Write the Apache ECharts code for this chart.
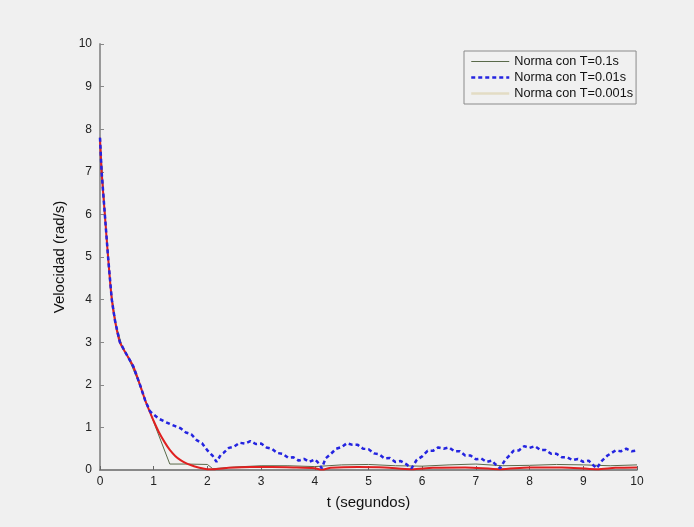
<!DOCTYPE html>
<html>
<head>
<meta charset="utf-8">
<script src="https://cdn.jsdelivr.net/npm/echarts@6/dist/echarts.min.js"></script>
<style>
  html, body { margin: 0; padding: 0; background: #f0f0f0; }
  #chart { width: 694px; height: 527px; }
</style>
</head>
<body>
<div id="chart"></div>
<script>
// Axis ticks
const xTicks = [0, 1, 2, 3, 4, 5, 6, 7, 8, 9, 10];
const yTicks = [0, 1, 2, 3, 4, 5, 6, 7, 8, 9, 10];

// Series names
const seriesNames = ['Norma con T=0.1s', 'Norma con T=0.01s', 'Norma con T=0.001s'];

// Norm of the velocity, T = 0.1 s  [t, value]
const normT01 = [
  [0, 7.8], [0.1, 5.85], [0.2, 4.25], [0.3, 3.4], [0.4, 2.95], [0.5, 2.7],
  [0.6, 2.42], [0.7, 2.12], [0.8, 1.78], [0.9, 1.45], [1.3, 0.14],
  [1.6, 0.14], [2.0, 0.13], [2.1, 0.03], [2.5, 0.07], [3.0, 0.1],
  [3.5, 0.1], [4.0, 0.08], [4.5, 0.12], [5.0, 0.13], [5.5, 0.1],
  [6.0, 0.09], [6.5, 0.12], [7.0, 0.14], [7.5, 0.1], [8.0, 0.11],
  [8.5, 0.13], [9.0, 0.12], [9.5, 0.1], [10.0, 0.12]
];

// Norm of the velocity, T = 0.01 s  [t, value]
const normT001 = [
  [0, 7.8], [0.03, 7.0], [0.09, 6.0], [0.15, 5.0], [0.22, 4.0], [0.28, 3.5],
  [0.37, 3.0], [0.5, 2.7], [0.62, 2.43], [0.745, 2.0], [0.84, 1.64],
  [0.93, 1.38], [1.0, 1.3], [1.1, 1.2], [1.2, 1.14], [1.3, 1.08],
  [1.4, 1.03], [1.5, 0.98], [1.6, 0.88], [1.7, 0.84], [1.8, 0.70],
  [1.9, 0.63], [2.0, 0.46], [2.1, 0.33], [2.17, 0.19], [2.25, 0.36],
  [2.3, 0.40], [2.4, 0.52], [2.5, 0.55], [2.6, 0.64], [2.7, 0.62],
  [2.8, 0.68], [2.9, 0.61], [3.0, 0.62], [3.1, 0.53], [3.2, 0.50],
  [3.3, 0.40], [3.4, 0.38], [3.5, 0.29], [3.6, 0.30], [3.7, 0.22],
  [3.8, 0.26], [3.9, 0.19], [4.0, 0.25], [4.05, 0.19], [4.13, 0.04],
  [4.2, 0.27], [4.3, 0.38], [4.4, 0.50], [4.5, 0.54], [4.6, 0.63],
  [4.7, 0.59], [4.8, 0.59], [4.9, 0.50], [5.0, 0.49], [5.1, 0.39],
  [5.2, 0.37], [5.3, 0.27], [5.4, 0.28], [5.5, 0.19], [5.6, 0.21],
  [5.7, 0.14], [5.8, 0.04], [5.9, 0.24], [6.0, 0.32], [6.1, 0.45],
  [6.2, 0.45], [6.3, 0.53], [6.4, 0.50], [6.5, 0.53], [6.6, 0.44],
  [6.7, 0.44], [6.8, 0.34], [6.9, 0.34], [7.0, 0.25], [7.1, 0.27],
  [7.2, 0.19], [7.3, 0.22], [7.35, 0.15], [7.45, 0.04], [7.55, 0.25],
  [7.6, 0.31], [7.7, 0.45], [7.8, 0.46], [7.9, 0.56], [8.0, 0.52],
  [8.1, 0.56], [8.2, 0.47], [8.3, 0.47], [8.4, 0.38], [8.5, 0.38],
  [8.6, 0.30], [8.7, 0.30], [8.8, 0.23], [8.9, 0.26], [9.0, 0.19],
  [9.1, 0.22], [9.17, 0.13], [9.25, 0.04], [9.35, 0.22], [9.45, 0.34],
  [9.5, 0.38], [9.6, 0.46], [9.7, 0.44], [9.8, 0.50], [9.9, 0.44],
  [10.0, 0.46]
];

// Norm of the velocity, T = 0.001 s  [t, value]
const normT0001 = [
  [0, 7.8], [0.03, 7.0], [0.09, 6.0], [0.15, 5.0], [0.22, 4.0], [0.28, 3.5],
  [0.37, 3.0], [0.5, 2.7], [0.62, 2.43], [0.745, 2.0], [0.84, 1.64],
  [0.9, 1.45], [1.0, 1.15], [1.1, 0.88], [1.2, 0.66], [1.3, 0.47],
  [1.4, 0.33], [1.5, 0.23], [1.6, 0.16], [1.7, 0.11], [1.8, 0.07],
  [1.9, 0.04], [2.0, 0.02], [2.1, 0.02], [2.4, 0.05], [2.8, 0.07],
  [3.2, 0.07], [3.6, 0.06], [4.0, 0.04], [4.13, 0.01], [4.3, 0.05],
  [4.8, 0.07], [5.3, 0.06], [5.8, 0.02], [6.2, 0.05], [6.8, 0.06],
  [7.45, 0.02], [8.0, 0.06], [8.6, 0.06], [9.25, 0.02], [9.6, 0.05],
  [10.0, 0.06]
];

const chart = echarts.init(document.getElementById('chart'), null, { renderer: 'canvas' });

const fontFamily = 'Liberation Sans, Arial, sans-serif';
const axisFont = { fontFamily: fontFamily, fontSize: 12, color: '#222' };
// legend entries show only the line sample, no marker
const noMarker = { color: 'rgba(0,0,0,0)', borderWidth: 0, opacity: 0 };

chart.setOption({
  backgroundColor: '#f0f0f0',
  animation: false,
  grid: { left: 100, right: 57, top: 44, bottom: 57 },
  legend: {
    orient: 'vertical',
    left: 464,
    top: 51,
    padding: [4, 3, 4, 6],
    itemGap: 3,
    itemWidth: 38,
    itemHeight: 14,
    borderColor: '#8a8a8a',
    borderWidth: 1,
    backgroundColor: '#f0f0f0',
    textStyle: { fontFamily: fontFamily, fontSize: 12.7, color: '#111' },
    data: [
      { name: seriesNames[0], itemStyle: noMarker, lineStyle: { color: '#5a6a4a', width: 1 } },
      { name: seriesNames[1], itemStyle: noMarker, lineStyle: { color: '#2424e0', width: 2.5, type: [4, 3] } },
      { name: seriesNames[2], itemStyle: noMarker, lineStyle: { color: '#e3dcc4', width: 2.5 } }
    ]
  },
  xAxis: {
    type: 'value',
    min: 0, max: 10, interval: 1,
    name: 't (segundos)',
    nameLocation: 'middle',
    nameGap: 25,
    nameTextStyle: { fontFamily: fontFamily, fontSize: 15, color: '#111' },
    axisLine: { onZero: false, lineStyle: { color: '#666', width: 1.5 } },
    axisTick: { inside: true, length: 4, lineStyle: { color: '#666' } },
    axisLabel: Object.assign({ margin: 6, formatter: v => xTicks.includes(v) ? String(v) : '' }, axisFont),
    splitLine: { show: false }
  },
  yAxis: {
    type: 'value',
    min: 0, max: 10, interval: 1,
    name: 'Velocidad (rad/s)',
    nameLocation: 'middle',
    nameGap: 29,
    nameRotate: 90,
    nameTextStyle: { fontFamily: fontFamily, fontSize: 15, color: '#111' },
    axisLine: { show: true, onZero: false, lineStyle: { color: '#999', width: 2 } },
    axisTick: { show: true, inside: true, length: 4, lineStyle: { color: '#888' } },
    axisLabel: Object.assign({ margin: 8, formatter: v => yTicks.includes(v) ? String(v) : '' }, axisFont),
    splitLine: { show: false }
  },
  series: [
    {
      name: seriesNames[0], type: 'line', data: normT01, showSymbol: false, symbol: 'none',
      color: '#5a6a4a',
      lineStyle: { color: '#5a6a4a', width: 1 }, z: 2
    },
    {
      name: seriesNames[2], type: 'line', data: normT0001, showSymbol: false, symbol: 'none', smooth: 0.3,
      color: '#e02020',
      lineStyle: { color: '#e02020', width: 2 }, z: 3
    },
    {
      name: seriesNames[1], type: 'line', data: normT001, showSymbol: false, symbol: 'none',
      color: '#2424e0',
      lineStyle: { color: '#2424e0', width: 2.5, type: [4, 3] }, z: 4
    }
  ]
});
</script>
</body>
</html>
